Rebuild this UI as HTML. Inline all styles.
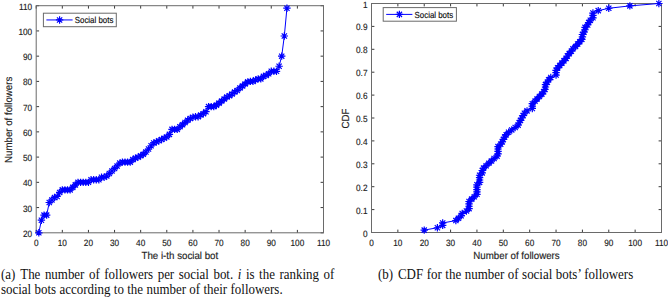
<!DOCTYPE html>
<html><head><meta charset="utf-8"><title>Social bots followers</title>
<style>
html,body{margin:0;padding:0;background:#fff;}
body{width:668px;height:298px;overflow:hidden;position:relative;font-family:"Liberation Sans",sans-serif;}
svg{position:absolute;left:0;top:0;}
svg text{font-family:"Liberation Sans",sans-serif;text-rendering:geometricPrecision;stroke:#222;stroke-width:0.15px;}
.cap{position:absolute;font-family:"Liberation Serif",serif;font-size:12.95px;line-height:15px;color:#111;white-space:nowrap;transform:scale(1,1.06);transform-origin:0 0;}
.sp{display:inline-block;height:1px;}
</style></head><body>
<svg width="668" height="298" viewBox="0 0 668 298">
<path d="M36.20 232.80v-2.9M36.20 5.70v2.9M62.32 232.80v-2.9M62.32 5.70v2.9M88.44 232.80v-2.9M88.44 5.70v2.9M114.55 232.80v-2.9M114.55 5.70v2.9M140.67 232.80v-2.9M140.67 5.70v2.9M166.79 232.80v-2.9M166.79 5.70v2.9M192.91 232.80v-2.9M192.91 5.70v2.9M219.03 232.80v-2.9M219.03 5.70v2.9M245.15 232.80v-2.9M245.15 5.70v2.9M271.26 232.80v-2.9M271.26 5.70v2.9M297.38 232.80v-2.9M297.38 5.70v2.9M323.50 232.80v-2.9M323.50 5.70v2.9M36.20 232.80h2.9M323.50 232.80h-2.9M36.20 207.57h2.9M323.50 207.57h-2.9M36.20 182.33h2.9M323.50 182.33h-2.9M36.20 157.10h2.9M323.50 157.10h-2.9M36.20 131.87h2.9M323.50 131.87h-2.9M36.20 106.63h2.9M323.50 106.63h-2.9M36.20 81.40h2.9M323.50 81.40h-2.9M36.20 56.17h2.9M323.50 56.17h-2.9M36.20 30.93h2.9M323.50 30.93h-2.9M36.20 5.70h2.9M323.50 5.70h-2.9" stroke="#3a3a3a" stroke-width="1.0" fill="none"/>
<rect x="36.2" y="5.7" width="287.30" height="227.10" fill="none" stroke="#6a6a6a" stroke-width="1.0"/>
<text transform="translate(36.20 245.6) scale(0.905 1)" font-size="9.1" text-anchor="middle" fill="#222">0</text>
<text transform="translate(62.32 245.6) scale(0.905 1)" font-size="9.1" text-anchor="middle" fill="#222">10</text>
<text transform="translate(88.44 245.6) scale(0.905 1)" font-size="9.1" text-anchor="middle" fill="#222">20</text>
<text transform="translate(114.55 245.6) scale(0.905 1)" font-size="9.1" text-anchor="middle" fill="#222">30</text>
<text transform="translate(140.67 245.6) scale(0.905 1)" font-size="9.1" text-anchor="middle" fill="#222">40</text>
<text transform="translate(166.79 245.6) scale(0.905 1)" font-size="9.1" text-anchor="middle" fill="#222">50</text>
<text transform="translate(192.91 245.6) scale(0.905 1)" font-size="9.1" text-anchor="middle" fill="#222">60</text>
<text transform="translate(219.03 245.6) scale(0.905 1)" font-size="9.1" text-anchor="middle" fill="#222">70</text>
<text transform="translate(245.15 245.6) scale(0.905 1)" font-size="9.1" text-anchor="middle" fill="#222">80</text>
<text transform="translate(271.26 245.6) scale(0.905 1)" font-size="9.1" text-anchor="middle" fill="#222">90</text>
<text transform="translate(297.38 245.6) scale(0.905 1)" font-size="9.1" text-anchor="middle" fill="#222">100</text>
<text transform="translate(323.50 245.6) scale(0.905 1)" font-size="9.1" text-anchor="middle" fill="#222">110</text>
<text transform="translate(32.20 236.80) scale(0.905 1)" font-size="9.1" text-anchor="end" fill="#222">20</text>
<text transform="translate(32.20 211.57) scale(0.905 1)" font-size="9.1" text-anchor="end" fill="#222">30</text>
<text transform="translate(32.20 186.33) scale(0.905 1)" font-size="9.1" text-anchor="end" fill="#222">40</text>
<text transform="translate(32.20 161.10) scale(0.905 1)" font-size="9.1" text-anchor="end" fill="#222">50</text>
<text transform="translate(32.20 135.87) scale(0.905 1)" font-size="9.1" text-anchor="end" fill="#222">60</text>
<text transform="translate(32.20 110.63) scale(0.905 1)" font-size="9.1" text-anchor="end" fill="#222">70</text>
<text transform="translate(32.20 85.40) scale(0.905 1)" font-size="9.1" text-anchor="end" fill="#222">80</text>
<text transform="translate(32.20 60.17) scale(0.905 1)" font-size="9.1" text-anchor="end" fill="#222">90</text>
<text transform="translate(32.20 34.93) scale(0.905 1)" font-size="9.1" text-anchor="end" fill="#222">100</text>
<text transform="translate(32.20 9.70) scale(0.905 1)" font-size="9.1" text-anchor="end" fill="#222">110</text>
<text transform="translate(179.85 259.0) scale(0.943 1)" font-size="10.3" text-anchor="middle" fill="#222">The i-th social bot</text>
<text transform="translate(11.7 119.85) rotate(-90) scale(0.943 1)" font-size="10.3" text-anchor="middle" fill="#222">Number of followers</text>
<path d="M38.81 232.80L41.42 220.18L44.04 215.14L46.65 215.14L49.26 202.52L51.87 200.00L54.48 197.47L57.09 196.46L59.71 192.43L62.32 189.90L64.93 189.90L67.54 189.90L70.15 189.90L72.77 187.38L75.38 184.86L77.99 182.33L80.60 182.33L83.21 182.33L85.82 182.33L88.44 182.33L91.05 179.81L93.66 179.81L96.27 179.81L98.88 179.81L101.50 177.29L104.11 177.29L106.72 176.03L109.33 173.50L111.94 170.98L114.55 168.46L117.17 165.93L119.78 163.16L122.39 162.15L125.00 162.15L127.61 162.15L130.23 162.15L132.84 159.62L135.45 158.11L138.06 157.10L140.67 155.84L143.28 154.32L145.90 152.05L148.51 149.03L151.12 145.75L153.73 142.97L156.34 141.96L158.96 140.70L161.57 139.44L164.18 138.18L166.79 136.91L169.40 134.39L172.01 129.34L174.63 129.34L177.24 129.34L179.85 126.82L182.46 124.80L185.07 122.53L187.69 120.26L190.30 118.49L192.91 117.23L195.52 116.73L198.13 116.73L200.74 114.96L203.36 113.70L205.97 111.68L208.58 106.63L211.19 106.63L213.80 106.63L216.42 105.12L219.03 103.10L221.64 101.08L224.25 99.06L226.86 97.04L229.47 95.78L232.09 94.02L234.70 92.00L237.31 90.48L239.92 87.96L242.53 85.94L245.15 83.92L247.76 81.90L250.37 81.40L252.98 81.40L255.59 79.89L258.20 78.88L260.82 78.88L263.43 76.35L266.04 75.34L268.65 73.83L271.26 71.31L273.88 71.31L276.49 71.31L279.10 66.26L281.71 56.17L284.32 35.98L286.93 8.22" fill="none" stroke="#0000ff" stroke-width="1.0" stroke-linejoin="round"/>
<path d="M35.11 232.80H42.51M38.81 229.10V236.50M36.20 230.18L41.43 235.42M36.20 235.42L41.43 230.18M37.72 220.18H45.12M41.42 216.48V223.88M38.81 217.57L44.04 222.80M38.81 222.80L44.04 217.57M40.34 215.14H47.74M44.04 211.44V218.84M41.42 212.52L46.65 217.75M41.42 217.75L46.65 212.52M42.95 215.14H50.35M46.65 211.44V218.84M44.03 212.52L49.26 217.75M44.03 217.75L49.26 212.52M45.56 202.52H52.96M49.26 198.82V206.22M46.64 199.90L51.88 205.14M46.64 205.14L51.88 199.90M48.17 200.00H55.57M51.87 196.30V203.70M49.25 197.38L54.49 202.61M49.25 202.61L54.49 197.38M50.78 197.47H58.18M54.48 193.77V201.17M51.87 194.86L57.10 200.09M51.87 200.09L57.10 194.86M53.39 196.46H60.79M57.09 192.76V200.16M54.48 193.85L59.71 199.08M54.48 199.08L59.71 193.85M56.01 192.43H63.41M59.71 188.73V196.13M57.09 189.81L62.32 195.04M57.09 195.04L62.32 189.81M58.62 189.90H66.02M62.32 186.20V193.60M59.70 187.29L64.93 192.52M59.70 192.52L64.93 187.29M61.23 189.90H68.63M64.93 186.20V193.60M62.31 187.29L67.55 192.52M62.31 192.52L67.55 187.29M63.84 189.90H71.24M67.54 186.20V193.60M64.93 187.29L70.16 192.52M64.93 192.52L70.16 187.29M66.45 189.90H73.85M70.15 186.20V193.60M67.54 187.29L72.77 192.52M67.54 192.52L72.77 187.29M69.07 187.38H76.47M72.77 183.68V191.08M70.15 184.76L75.38 190.00M70.15 190.00L75.38 184.76M71.68 184.86H79.08M75.38 181.16V188.56M72.76 182.24L77.99 187.47M72.76 187.47L77.99 182.24M74.29 182.33H81.69M77.99 178.63V186.03M75.37 179.72L80.61 184.95M75.37 184.95L80.61 179.72M76.90 182.33H84.30M80.60 178.63V186.03M77.98 179.72L83.22 184.95M77.98 184.95L83.22 179.72M79.51 182.33H86.91M83.21 178.63V186.03M80.60 179.72L85.83 184.95M80.60 184.95L85.83 179.72M82.12 182.33H89.52M85.82 178.63V186.03M83.21 179.72L88.44 184.95M83.21 184.95L88.44 179.72M84.74 182.33H92.14M88.44 178.63V186.03M85.82 179.72L91.05 184.95M85.82 184.95L91.05 179.72M87.35 179.81H94.75M91.05 176.11V183.51M88.43 177.19L93.66 182.43M88.43 182.43L93.66 177.19M89.96 179.81H97.36M93.66 176.11V183.51M91.04 177.19L96.28 182.43M91.04 182.43L96.28 177.19M92.57 179.81H99.97M96.27 176.11V183.51M93.66 177.19L98.89 182.43M93.66 182.43L98.89 177.19M95.18 179.81H102.58M98.88 176.11V183.51M96.27 177.19L101.50 182.43M96.27 182.43L101.50 177.19M97.80 177.29H105.20M101.50 173.59V180.99M98.88 174.67L104.11 179.90M98.88 179.90L104.11 174.67M100.41 177.29H107.81M104.11 173.59V180.99M101.49 174.67L106.72 179.90M101.49 179.90L106.72 174.67M103.02 176.03H110.42M106.72 172.33V179.72M104.10 173.41L109.34 178.64M104.10 178.64L109.34 173.41M105.63 173.50H113.03M109.33 169.80V177.20M106.71 170.89L111.95 176.12M106.71 176.12L111.95 170.89M108.24 170.98H115.64M111.94 167.28V174.68M109.33 168.36L114.56 173.59M109.33 173.59L114.56 168.36M110.85 168.46H118.25M114.55 164.76V172.16M111.94 165.84L117.17 171.07M111.94 171.07L117.17 165.84M113.47 165.93H120.87M117.17 162.23V169.63M114.55 163.32L119.78 168.55M114.55 168.55L119.78 163.32M116.08 163.16H123.48M119.78 159.46V166.86M117.16 160.54L122.39 165.77M117.16 165.77L122.39 160.54M118.69 162.15H126.09M122.39 158.45V165.85M119.77 159.53L125.01 164.76M119.77 164.76L125.01 159.53M121.30 162.15H128.70M125.00 158.45V165.85M122.39 159.53L127.62 164.76M122.39 164.76L127.62 159.53M123.91 162.15H131.31M127.61 158.45V165.85M125.00 159.53L130.23 164.76M125.00 164.76L130.23 159.53M126.53 162.15H133.93M130.23 158.45V165.85M127.61 159.53L132.84 164.76M127.61 164.76L132.84 159.53M129.14 159.62H136.54M132.84 155.92V163.32M130.22 157.01L135.45 162.24M130.22 162.24L135.45 157.01M131.75 158.11H139.15M135.45 154.41V161.81M132.83 155.49L138.07 160.73M132.83 160.73L138.07 155.49M134.36 157.10H141.76M138.06 153.40V160.80M135.44 154.48L140.68 159.72M135.44 159.72L140.68 154.48M136.97 155.84H144.37M140.67 152.14V159.54M138.06 153.22L143.29 158.45M138.06 158.45L143.29 153.22M139.58 154.32H146.98M143.28 150.62V158.02M140.67 151.71L145.90 156.94M140.67 156.94L145.90 151.71M142.20 152.05H149.60M145.90 148.35V155.75M143.28 149.44L148.51 154.67M143.28 154.67L148.51 149.44M144.81 149.03H152.21M148.51 145.33V152.73M145.89 146.41L151.12 151.64M145.89 151.64L151.12 146.41M147.42 145.75H154.82M151.12 142.05V149.44M148.50 143.13L153.74 148.36M148.50 148.36L153.74 143.13M150.03 142.97H157.43M153.73 139.27V146.67M151.12 140.35L156.35 145.59M151.12 145.59L156.35 140.35M152.64 141.96H160.04M156.34 138.26V145.66M153.73 139.34L158.96 144.58M153.73 144.58L158.96 139.34M155.26 140.70H162.66M158.96 137.00V144.40M156.34 138.08L161.57 143.31M156.34 143.31L161.57 138.08M157.87 139.44H165.27M161.57 135.74V143.14M158.95 136.82L164.18 142.05M158.95 142.05L164.18 136.82M160.48 138.18H167.88M164.18 134.48V141.88M161.56 135.56L166.80 140.79M161.56 140.79L166.80 135.56M163.09 136.91H170.49M166.79 133.21V140.61M164.17 134.30L169.41 139.53M164.17 139.53L169.41 134.30M165.70 134.39H173.10M169.40 130.69V138.09M166.79 131.77L172.02 137.01M166.79 137.01L172.02 131.77M168.31 129.34H175.71M172.01 125.64V133.04M169.40 126.73L174.63 131.96M169.40 131.96L174.63 126.73M170.93 129.34H178.33M174.63 125.64V133.04M172.01 126.73L177.24 131.96M172.01 131.96L177.24 126.73M173.54 129.34H180.94M177.24 125.64V133.04M174.62 126.73L179.85 131.96M174.62 131.96L179.85 126.73M176.15 126.82H183.55M179.85 123.12V130.52M177.23 124.20L182.47 129.44M177.23 129.44L182.47 124.20M178.76 124.80H186.16M182.46 121.10V128.50M179.85 122.19L185.08 127.42M179.85 127.42L185.08 122.19M181.37 122.53H188.77M185.07 118.83V126.23M182.46 119.91L187.69 125.15M182.46 125.15L187.69 119.91M183.99 120.26H191.39M187.69 116.56V123.96M185.07 117.64L190.30 122.88M185.07 122.88L190.30 117.64M186.60 118.49H194.00M190.30 114.79V122.19M187.68 115.88L192.91 121.11M187.68 121.11L192.91 115.88M189.21 117.23H196.61M192.91 113.53V120.93M190.29 114.62L195.53 119.85M190.29 119.85L195.53 114.62M191.82 116.73H199.22M195.52 113.03V120.43M192.90 114.11L198.14 119.34M192.90 119.34L198.14 114.11M194.43 116.73H201.83M198.13 113.03V120.43M195.52 114.11L200.75 119.34M195.52 119.34L200.75 114.11M197.04 114.96H204.44M200.74 111.26V118.66M198.13 112.34L203.36 117.58M198.13 117.58L203.36 112.34M199.66 113.70H207.06M203.36 110.00V117.40M200.74 111.08L205.97 116.31M200.74 116.31L205.97 111.08M202.27 111.68H209.67M205.97 107.98V115.38M203.35 109.06L208.58 114.30M203.35 114.30L208.58 109.06M204.88 106.63H212.28M208.58 102.93V110.33M205.96 104.02L211.20 109.25M205.96 109.25L211.20 104.02M207.49 106.63H214.89M211.19 102.93V110.33M208.58 104.02L213.81 109.25M208.58 109.25L213.81 104.02M210.10 106.63H217.50M213.80 102.93V110.33M211.19 104.02L216.42 109.25M211.19 109.25L216.42 104.02M212.72 105.12H220.12M216.42 101.42V108.82M213.80 102.50L219.03 107.74M213.80 107.74L219.03 102.50M215.33 103.10H222.73M219.03 99.40V106.80M216.41 100.48L221.64 105.72M216.41 105.72L221.64 100.48M217.94 101.08H225.34M221.64 97.38V104.78M219.02 98.47L224.26 103.70M219.02 103.70L224.26 98.47M220.55 99.06H227.95M224.25 95.36V102.76M221.63 96.45L226.87 101.68M221.63 101.68L226.87 96.45M223.16 97.04H230.56M226.86 93.34V100.74M224.25 94.43L229.48 99.66M224.25 99.66L229.48 94.43M225.77 95.78H233.17M229.47 92.08V99.48M226.86 93.17L232.09 98.40M226.86 98.40L232.09 93.17M228.39 94.02H235.79M232.09 90.32V97.72M229.47 91.40L234.70 96.63M229.47 96.63L234.70 91.40M231.00 92.00H238.40M234.70 88.30V95.70M232.08 89.38L237.31 94.61M232.08 94.61L237.31 89.38M233.61 90.48H241.01M237.31 86.78V94.18M234.69 87.87L239.93 93.10M234.69 93.10L239.93 87.87M236.22 87.96H243.62M239.92 84.26V91.66M237.31 85.34L242.54 90.58M237.31 90.58L242.54 85.34M238.83 85.94H246.23M242.53 82.24V89.64M239.92 83.33L245.15 88.56M239.92 88.56L245.15 83.33M241.45 83.92H248.85M245.15 80.22V87.62M242.53 81.31L247.76 86.54M242.53 86.54L247.76 81.31M244.06 81.90H251.46M247.76 78.20V85.60M245.14 79.29L250.37 84.52M245.14 84.52L250.37 79.29M246.67 81.40H254.07M250.37 77.70V85.10M247.75 78.78L252.99 84.02M247.75 84.02L252.99 78.78M249.28 81.40H256.68M252.98 77.70V85.10M250.36 78.78L255.60 84.02M250.36 84.02L255.60 78.78M251.89 79.89H259.29M255.59 76.19V83.59M252.98 77.27L258.21 82.50M252.98 82.50L258.21 77.27M254.50 78.88H261.90M258.20 75.18V82.58M255.59 76.26L260.82 81.49M255.59 81.49L260.82 76.26M257.12 78.88H264.52M260.82 75.18V82.58M258.20 76.26L263.43 81.49M258.20 81.49L263.43 76.26M259.73 76.35H267.13M263.43 72.65V80.05M260.81 73.74L266.04 78.97M260.81 78.97L266.04 73.74M262.34 75.34H269.74M266.04 71.64V79.04M263.42 72.73L268.66 77.96M263.42 77.96L268.66 72.73M264.95 73.83H272.35M268.65 70.13V77.53M266.04 71.21L271.27 76.45M266.04 76.45L271.27 71.21M267.56 71.31H274.96M271.26 67.61V75.01M268.65 68.69L273.88 73.92M268.65 73.92L273.88 68.69M270.18 71.31H277.58M273.88 67.61V75.01M271.26 68.69L276.49 73.92M271.26 73.92L276.49 68.69M272.79 71.31H280.19M276.49 67.61V75.01M273.87 68.69L279.10 73.92M273.87 73.92L279.10 68.69M275.40 66.26H282.80M279.10 62.56V69.96M276.48 63.64L281.72 68.88M276.48 68.88L281.72 63.64M278.01 56.17H285.41M281.71 52.47V59.87M279.09 53.55L284.33 58.78M279.09 58.78L284.33 53.55M280.62 35.98H288.02M284.32 32.28V39.68M281.71 33.36L286.94 38.60M281.71 38.60L286.94 33.36M283.23 8.22H290.63M286.93 4.52V11.92M284.32 5.61L289.55 10.84M284.32 10.84L289.55 5.61" fill="none" stroke="#0000ff" stroke-width="1.2"/>
<rect x="43.4" y="13.2" width="72.90" height="13.50" fill="#fff" stroke="#6a6a6a" stroke-width="1.0"/>
<path d="M46.40 19.95H72.60" stroke="#0000ff" stroke-width="1.0"/>
<path d="M55.90 19.95H63.30M59.60 16.25V23.65M56.98 17.33L62.22 22.57M56.98 22.57L62.22 17.33" stroke="#0000ff" stroke-width="1.2" fill="none"/>
<text transform="translate(74.80 23.05) scale(0.895 1)" font-size="8.8" fill="#000">Social bots</text>
<path d="M371.50 232.50v-2.9M371.50 3.50v2.9M397.86 232.50v-2.9M397.86 3.50v2.9M424.23 232.50v-2.9M424.23 3.50v2.9M450.59 232.50v-2.9M450.59 3.50v2.9M476.95 232.50v-2.9M476.95 3.50v2.9M503.32 232.50v-2.9M503.32 3.50v2.9M529.68 232.50v-2.9M529.68 3.50v2.9M556.05 232.50v-2.9M556.05 3.50v2.9M582.41 232.50v-2.9M582.41 3.50v2.9M608.77 232.50v-2.9M608.77 3.50v2.9M635.14 232.50v-2.9M635.14 3.50v2.9M661.50 232.50v-2.9M661.50 3.50v2.9M371.50 232.50h2.9M661.50 232.50h-2.9M371.50 209.60h2.9M661.50 209.60h-2.9M371.50 186.70h2.9M661.50 186.70h-2.9M371.50 163.80h2.9M661.50 163.80h-2.9M371.50 140.90h2.9M661.50 140.90h-2.9M371.50 118.00h2.9M661.50 118.00h-2.9M371.50 95.10h2.9M661.50 95.10h-2.9M371.50 72.20h2.9M661.50 72.20h-2.9M371.50 49.30h2.9M661.50 49.30h-2.9M371.50 26.40h2.9M661.50 26.40h-2.9M371.50 3.50h2.9M661.50 3.50h-2.9" stroke="#3a3a3a" stroke-width="1.0" fill="none"/>
<rect x="371.5" y="3.5" width="290.00" height="229.00" fill="none" stroke="#6a6a6a" stroke-width="1.0"/>
<text transform="translate(371.50 245.6) scale(0.905 1)" font-size="9.1" text-anchor="middle" fill="#222">0</text>
<text transform="translate(397.86 245.6) scale(0.905 1)" font-size="9.1" text-anchor="middle" fill="#222">10</text>
<text transform="translate(424.23 245.6) scale(0.905 1)" font-size="9.1" text-anchor="middle" fill="#222">20</text>
<text transform="translate(450.59 245.6) scale(0.905 1)" font-size="9.1" text-anchor="middle" fill="#222">30</text>
<text transform="translate(476.95 245.6) scale(0.905 1)" font-size="9.1" text-anchor="middle" fill="#222">40</text>
<text transform="translate(503.32 245.6) scale(0.905 1)" font-size="9.1" text-anchor="middle" fill="#222">50</text>
<text transform="translate(529.68 245.6) scale(0.905 1)" font-size="9.1" text-anchor="middle" fill="#222">60</text>
<text transform="translate(556.05 245.6) scale(0.905 1)" font-size="9.1" text-anchor="middle" fill="#222">70</text>
<text transform="translate(582.41 245.6) scale(0.905 1)" font-size="9.1" text-anchor="middle" fill="#222">80</text>
<text transform="translate(608.77 245.6) scale(0.905 1)" font-size="9.1" text-anchor="middle" fill="#222">90</text>
<text transform="translate(635.14 245.6) scale(0.905 1)" font-size="9.1" text-anchor="middle" fill="#222">100</text>
<text transform="translate(661.50 245.6) scale(0.905 1)" font-size="9.1" text-anchor="middle" fill="#222">110</text>
<text transform="translate(367.50 236.50) scale(0.905 1)" font-size="9.1" text-anchor="end" fill="#222">0</text>
<text transform="translate(367.50 213.60) scale(0.905 1)" font-size="9.1" text-anchor="end" fill="#222">0.1</text>
<text transform="translate(367.50 190.70) scale(0.905 1)" font-size="9.1" text-anchor="end" fill="#222">0.2</text>
<text transform="translate(367.50 167.80) scale(0.905 1)" font-size="9.1" text-anchor="end" fill="#222">0.3</text>
<text transform="translate(367.50 144.90) scale(0.905 1)" font-size="9.1" text-anchor="end" fill="#222">0.4</text>
<text transform="translate(367.50 122.00) scale(0.905 1)" font-size="9.1" text-anchor="end" fill="#222">0.5</text>
<text transform="translate(367.50 99.10) scale(0.905 1)" font-size="9.1" text-anchor="end" fill="#222">0.6</text>
<text transform="translate(367.50 76.20) scale(0.905 1)" font-size="9.1" text-anchor="end" fill="#222">0.7</text>
<text transform="translate(367.50 53.30) scale(0.905 1)" font-size="9.1" text-anchor="end" fill="#222">0.8</text>
<text transform="translate(367.50 30.40) scale(0.905 1)" font-size="9.1" text-anchor="end" fill="#222">0.9</text>
<text transform="translate(367.50 7.50) scale(0.905 1)" font-size="9.1" text-anchor="end" fill="#222">1</text>
<text transform="translate(516.50 259.0) scale(0.943 1)" font-size="10.3" text-anchor="middle" fill="#222">Number of followers</text>
<text transform="translate(349.1 118.60) rotate(-90) scale(0.943 1)" font-size="10.3" text-anchor="middle" fill="#222">CDF</text>
<path d="M424.23 230.11L437.41 227.73L442.68 225.34L442.68 222.96L455.86 220.57L458.50 218.19L461.14 215.80L462.19 213.42L466.41 211.03L469.05 208.65L469.05 206.26L469.05 203.88L469.05 201.49L471.68 199.10L474.32 196.72L476.95 194.33L476.95 191.95L476.95 189.56L476.95 187.18L476.95 184.79L479.59 182.41L479.59 180.02L479.59 177.64L479.59 175.25L482.23 172.86L482.23 170.48L483.55 168.09L486.18 165.71L488.82 163.32L491.45 160.94L494.09 158.55L496.99 156.17L498.05 153.78L498.05 151.40L498.05 149.01L498.05 146.62L500.68 144.24L502.26 141.85L503.32 139.47L504.64 137.08L506.22 134.70L508.59 132.31L511.75 129.93L515.18 127.54L518.08 125.16L519.14 122.77L520.45 120.39L521.77 118.00L523.09 115.61L524.41 113.23L527.05 110.84L532.32 108.46L532.32 106.07L532.32 103.69L534.95 101.30L537.06 98.92L539.44 96.53L541.81 94.15L543.65 91.76L544.97 89.38L545.50 86.99L545.50 84.60L547.35 82.22L548.66 79.83L550.77 77.45L556.05 75.06L556.05 72.68L556.05 70.29L557.63 67.91L559.74 65.52L561.85 63.14L563.95 60.75L566.06 58.36L567.38 55.98L569.23 53.59L571.34 51.21L572.92 48.82L575.55 46.44L577.66 44.05L579.77 41.67L581.88 39.28L582.41 36.90L582.41 34.51L583.99 32.12L585.05 29.74L585.05 27.35L587.68 24.97L588.74 22.58L590.32 20.20L592.95 17.81L592.95 15.43L592.95 13.04L598.23 10.66L608.77 8.27L629.86 5.89L658.86 3.50" fill="none" stroke="#0000ff" stroke-width="1.0" stroke-linejoin="round"/>
<path d="M420.53 230.11H427.93M424.23 226.41V233.81M421.61 227.50L426.84 232.73M421.61 232.73L426.84 227.50M433.71 227.73H441.11M437.41 224.03V231.43M434.79 225.11L440.03 230.35M434.79 230.35L440.03 225.11M438.98 225.34H446.38M442.68 221.64V229.04M440.07 222.73L445.30 227.96M440.07 227.96L445.30 222.73M438.98 222.96H446.38M442.68 219.26V226.66M440.07 220.34L445.30 225.57M440.07 225.57L445.30 220.34M452.16 220.57H459.56M455.86 216.87V224.27M453.25 217.96L458.48 223.19M453.25 223.19L458.48 217.96M454.80 218.19H462.20M458.50 214.49V221.89M455.88 215.57L461.12 220.80M455.88 220.80L461.12 215.57M457.44 215.80H464.84M461.14 212.10V219.50M458.52 213.19L463.75 218.42M458.52 218.42L463.75 213.19M458.49 213.42H465.89M462.19 209.72V217.12M459.57 210.80L464.81 216.03M459.57 216.03L464.81 210.80M462.71 211.03H470.11M466.41 207.33V214.73M463.79 208.41L469.03 213.65M463.79 213.65L469.03 208.41M465.35 208.65H472.75M469.05 204.95V212.35M466.43 206.03L471.66 211.26M466.43 211.26L471.66 206.03M465.35 206.26H472.75M469.05 202.56V209.96M466.43 203.64L471.66 208.88M466.43 208.88L471.66 203.64M465.35 203.88H472.75M469.05 200.18V207.57M466.43 201.26L471.66 206.49M466.43 206.49L471.66 201.26M465.35 201.49H472.75M469.05 197.79V205.19M466.43 198.87L471.66 204.11M466.43 204.11L471.66 198.87M467.98 199.10H475.38M471.68 195.40V202.80M469.07 196.49L474.30 201.72M469.07 201.72L474.30 196.49M470.62 196.72H478.02M474.32 193.02V200.42M471.70 194.10L476.93 199.34M471.70 199.34L476.93 194.10M473.25 194.33H480.65M476.95 190.63V198.03M474.34 191.72L479.57 196.95M474.34 196.95L479.57 191.72M473.25 191.95H480.65M476.95 188.25V195.65M474.34 189.33L479.57 194.56M474.34 194.56L479.57 189.33M473.25 189.56H480.65M476.95 185.86V193.26M474.34 186.95L479.57 192.18M474.34 192.18L479.57 186.95M473.25 187.18H480.65M476.95 183.48V190.88M474.34 184.56L479.57 189.79M474.34 189.79L479.57 184.56M473.25 184.79H480.65M476.95 181.09V188.49M474.34 182.18L479.57 187.41M474.34 187.41L479.57 182.18M475.89 182.41H483.29M479.59 178.71V186.11M476.97 179.79L482.21 185.02M476.97 185.02L482.21 179.79M475.89 180.02H483.29M479.59 176.32V183.72M476.97 177.40L482.21 182.64M476.97 182.64L482.21 177.40M475.89 177.64H483.29M479.59 173.94V181.34M476.97 175.02L482.21 180.25M476.97 180.25L482.21 175.02M475.89 175.25H483.29M479.59 171.55V178.95M476.97 172.63L482.21 177.87M476.97 177.87L482.21 172.63M478.53 172.86H485.93M482.23 169.16V176.56M479.61 170.25L484.84 175.48M479.61 175.48L484.84 170.25M478.53 170.48H485.93M482.23 166.78V174.18M479.61 167.86L484.84 173.10M479.61 173.10L484.84 167.86M479.85 168.09H487.25M483.55 164.39V171.79M480.93 165.48L486.16 170.71M480.93 170.71L486.16 165.48M482.48 165.71H489.88M486.18 162.01V169.41M483.57 163.09L488.80 168.32M483.57 168.32L488.80 163.09M485.12 163.32H492.52M488.82 159.62V167.02M486.20 160.71L491.43 165.94M486.20 165.94L491.43 160.71M487.75 160.94H495.15M491.45 157.24V164.64M488.84 158.32L494.07 163.55M488.84 163.55L494.07 158.32M490.39 158.55H497.79M494.09 154.85V162.25M491.47 155.94L496.71 161.17M491.47 161.17L496.71 155.94M493.29 156.17H500.69M496.99 152.47V159.87M494.37 153.55L499.61 158.78M494.37 158.78L499.61 153.55M494.35 153.78H501.75M498.05 150.08V157.48M495.43 151.16L500.66 156.40M495.43 156.40L500.66 151.16M494.35 151.40H501.75M498.05 147.70V155.10M495.43 148.78L500.66 154.01M495.43 154.01L500.66 148.78M494.35 149.01H501.75M498.05 145.31V152.71M495.43 146.39L500.66 151.63M495.43 151.63L500.66 146.39M494.35 146.62H501.75M498.05 142.93V150.32M495.43 144.01L500.66 149.24M495.43 149.24L500.66 144.01M496.98 144.24H504.38M500.68 140.54V147.94M498.07 141.62L503.30 146.86M498.07 146.86L503.30 141.62M498.56 141.85H505.96M502.26 138.15V145.55M499.65 139.24L504.88 144.47M499.65 144.47L504.88 139.24M499.62 139.47H507.02M503.32 135.77V143.17M500.70 136.85L505.93 142.09M500.70 142.09L505.93 136.85M500.94 137.08H508.34M504.64 133.38V140.78M502.02 134.47L507.25 139.70M502.02 139.70L507.25 134.47M502.52 134.70H509.92M506.22 131.00V138.40M503.60 132.08L508.83 137.31M503.60 137.31L508.83 132.08M504.89 132.31H512.29M508.59 128.61V136.01M505.97 129.70L511.21 134.93M505.97 134.93L511.21 129.70M508.05 129.93H515.45M511.75 126.23V133.63M509.14 127.31L514.37 132.54M509.14 132.54L514.37 127.31M511.48 127.54H518.88M515.18 123.84V131.24M512.57 124.93L517.80 130.16M512.57 130.16L517.80 124.93M514.38 125.16H521.78M518.08 121.46V128.86M515.47 122.54L520.70 127.77M515.47 127.77L520.70 122.54M515.44 122.77H522.84M519.14 119.07V126.47M516.52 120.15L521.75 125.39M516.52 125.39L521.75 120.15M516.75 120.39H524.15M520.45 116.69V124.09M517.84 117.77L523.07 123.00M517.84 123.00L523.07 117.77M518.07 118.00H525.47M521.77 114.30V121.70M519.16 115.38L524.39 120.62M519.16 120.62L524.39 115.38M519.39 115.61H526.79M523.09 111.91V119.31M520.47 113.00L525.71 118.23M520.47 118.23L525.71 113.00M520.71 113.23H528.11M524.41 109.53V116.93M521.79 110.61L527.03 115.85M521.79 115.85L527.03 110.61M523.35 110.84H530.75M527.05 107.14V114.54M524.43 108.23L529.66 113.46M524.43 113.46L529.66 108.23M528.62 108.46H536.02M532.32 104.76V112.16M529.70 105.84L534.93 111.07M529.70 111.07L534.93 105.84M528.62 106.07H536.02M532.32 102.37V109.77M529.70 103.46L534.93 108.69M529.70 108.69L534.93 103.46M528.62 103.69H536.02M532.32 99.99V107.39M529.70 101.07L534.93 106.30M529.70 106.30L534.93 101.07M531.25 101.30H538.65M534.95 97.60V105.00M532.34 98.69L537.57 103.92M532.34 103.92L537.57 98.69M533.36 98.92H540.76M537.06 95.22V102.62M534.45 96.30L539.68 101.53M534.45 101.53L539.68 96.30M535.74 96.53H543.14M539.44 92.83V100.23M536.82 93.91L542.05 99.15M536.82 99.15L542.05 93.91M538.11 94.15H545.51M541.81 90.45V97.85M539.19 91.53L544.43 96.76M539.19 96.76L544.43 91.53M539.95 91.76H547.35M543.65 88.06V95.46M541.04 89.14L546.27 94.38M541.04 94.38L546.27 89.14M541.27 89.38H548.67M544.97 85.67V93.08M542.36 86.76L547.59 91.99M542.36 91.99L547.59 86.76M541.80 86.99H549.20M545.50 83.29V90.69M542.88 84.37L548.12 89.61M542.88 89.61L548.12 84.37M541.80 84.60H549.20M545.50 80.90V88.30M542.88 81.99L548.12 87.22M542.88 87.22L548.12 81.99M543.65 82.22H551.05M547.35 78.52V85.92M544.73 79.60L549.96 84.84M544.73 84.84L549.96 79.60M544.96 79.83H552.36M548.66 76.13V83.53M546.05 77.22L551.28 82.45M546.05 82.45L551.28 77.22M547.07 77.45H554.47M550.77 73.75V81.15M548.16 74.83L553.39 80.06M548.16 80.06L553.39 74.83M552.35 75.06H559.75M556.05 71.36V78.76M553.43 72.45L558.66 77.68M553.43 77.68L558.66 72.45M552.35 72.68H559.75M556.05 68.98V76.38M553.43 70.06L558.66 75.29M553.43 75.29L558.66 70.06M552.35 70.29H559.75M556.05 66.59V73.99M553.43 67.68L558.66 72.91M553.43 72.91L558.66 67.68M553.93 67.91H561.33M557.63 64.21V71.61M555.01 65.29L560.24 70.52M555.01 70.52L560.24 65.29M556.04 65.52H563.44M559.74 61.82V69.22M557.12 62.90L562.35 68.14M557.12 68.14L562.35 62.90M558.15 63.14H565.55M561.85 59.44V66.84M559.23 60.52L564.46 65.75M559.23 65.75L564.46 60.52M560.25 60.75H567.65M563.95 57.05V64.45M561.34 58.13L566.57 63.37M561.34 63.37L566.57 58.13M562.36 58.36H569.76M566.06 54.66V62.06M563.45 55.75L568.68 60.98M563.45 60.98L568.68 55.75M563.68 55.98H571.08M567.38 52.28V59.68M564.77 53.36L570.00 58.60M564.77 58.60L570.00 53.36M565.53 53.59H572.93M569.23 49.89V57.29M566.61 50.98L571.84 56.21M566.61 56.21L571.84 50.98M567.64 51.21H575.04M571.34 47.51V54.91M568.72 48.59L573.95 53.82M568.72 53.82L573.95 48.59M569.22 48.82H576.62M572.92 45.12V52.52M570.30 46.21L575.53 51.44M570.30 51.44L575.53 46.21M571.85 46.44H579.25M575.55 42.74V50.14M572.94 43.82L578.17 49.05M572.94 49.05L578.17 43.82M573.96 44.05H581.36M577.66 40.35V47.75M575.05 41.44L580.28 46.67M575.05 46.67L580.28 41.44M576.07 41.67H583.47M579.77 37.97V45.37M577.16 39.05L582.39 44.28M577.16 44.28L582.39 39.05M578.18 39.28H585.58M581.88 35.58V42.98M579.27 36.66L584.50 41.90M579.27 41.90L584.50 36.66M578.71 36.90H586.11M582.41 33.20V40.60M579.79 34.28L585.03 39.51M579.79 39.51L585.03 34.28M578.71 34.51H586.11M582.41 30.81V38.21M579.79 31.89L585.03 37.13M579.79 37.13L585.03 31.89M580.29 32.12H587.69M583.99 28.43V35.83M581.37 29.51L586.61 34.74M581.37 34.74L586.61 29.51M581.35 29.74H588.75M585.05 26.04V33.44M582.43 27.12L587.66 32.36M582.43 32.36L587.66 27.12M581.35 27.35H588.75M585.05 23.65V31.05M582.43 24.74L587.66 29.97M582.43 29.97L587.66 24.74M583.98 24.97H591.38M587.68 21.27V28.67M585.07 22.35L590.30 27.59M585.07 27.59L590.30 22.35M585.04 22.58H592.44M588.74 18.88V26.28M586.12 19.97L591.35 25.20M586.12 25.20L591.35 19.97M586.62 20.20H594.02M590.32 16.50V23.90M587.70 17.58L592.93 22.81M587.70 22.81L592.93 17.58M589.25 17.81H596.65M592.95 14.11V21.51M590.34 15.20L595.57 20.43M590.34 20.43L595.57 15.20M589.25 15.43H596.65M592.95 11.73V19.13M590.34 12.81L595.57 18.04M590.34 18.04L595.57 12.81M589.25 13.04H596.65M592.95 9.34V16.74M590.34 10.43L595.57 15.66M590.34 15.66L595.57 10.43M594.53 10.66H601.93M598.23 6.96V14.36M595.61 8.04L600.84 13.27M595.61 13.27L600.84 8.04M605.07 8.27H612.47M608.77 4.57V11.97M606.16 5.65L611.39 10.89M606.16 10.89L611.39 5.65M626.16 5.89H633.56M629.86 2.19V9.59M627.25 3.27L632.48 8.50M627.25 8.50L632.48 3.27M655.16 3.50H662.56M658.86 -0.20V7.20M656.25 0.88L661.48 6.12M656.25 6.12L661.48 0.88" fill="none" stroke="#0000ff" stroke-width="1.2"/>
<rect x="383.2" y="7.6" width="73.20" height="13.60" fill="#fff" stroke="#6a6a6a" stroke-width="1.0"/>
<path d="M386.20 14.40H412.40" stroke="#0000ff" stroke-width="1.0"/>
<path d="M395.70 14.40H403.10M399.40 10.70V18.10M396.78 11.78L402.02 17.02M396.78 17.02L402.02 11.78" stroke="#0000ff" stroke-width="1.2" fill="none"/>
<text transform="translate(414.60 17.50) scale(0.895 1)" font-size="8.8" fill="#000">Social bots</text>
</svg>
<div class="cap" style="left:1px;top:266.3px;"><span id="a1" style="word-spacing:1.3px">(a)<span class="sp" style="width:4.9px"></span>The number of followers per social bot.<span class="sp" style="width:4.6px"></span><i>i</i> is the ranking of</span></div>
<div class="cap" style="left:1px;top:281.3px;"><span id="a2" style="word-spacing:0.13px">social bots according to the number of their followers.</span></div>
<div class="cap" style="left:378px;top:266.3px;"><span id="b1" style="word-spacing:0.32px">(b)<span class="sp" style="width:4.9px"></span>CDF for the number of social bots’ followers</span></div>
</body></html>
